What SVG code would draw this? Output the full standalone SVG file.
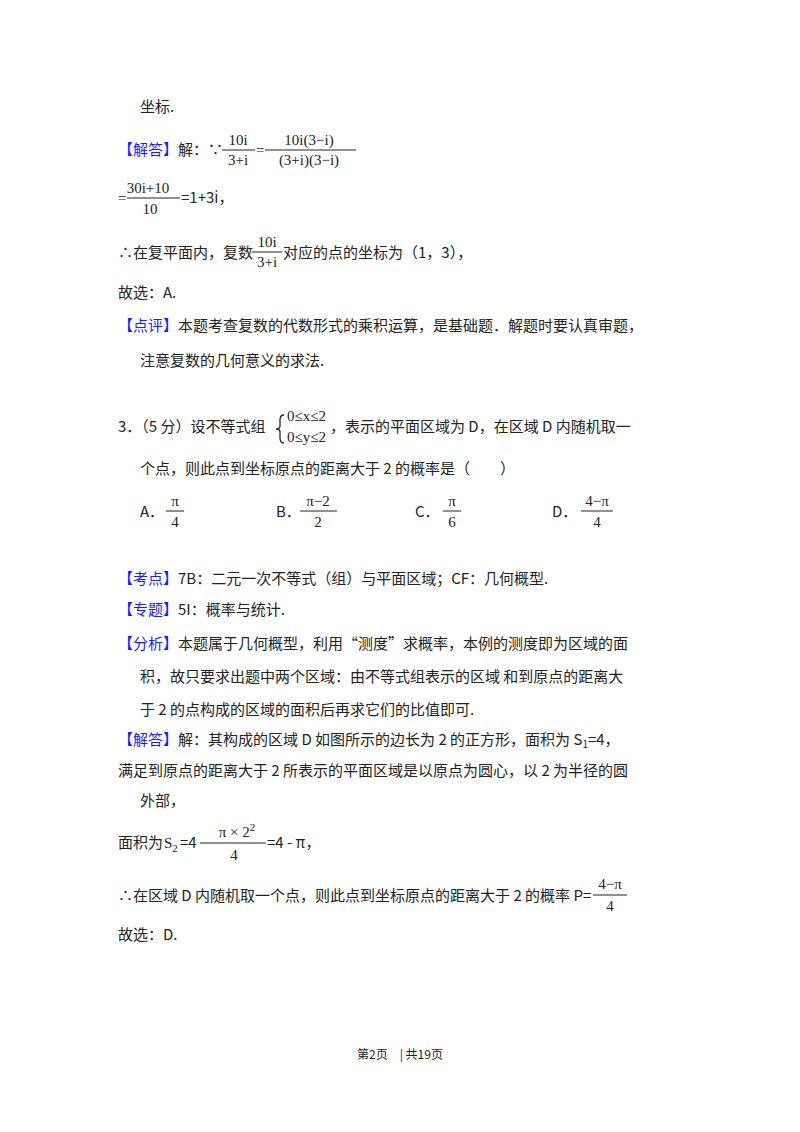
<svg xmlns="http://www.w3.org/2000/svg" width="800" height="1132" viewBox="0 0 800 1132">
<style>
text{font-family:"Noto Sans CJK SC","Liberation Sans",sans-serif;font-size:15px;fill:#222}
.b{fill:#1a1aff}
.m{font-family:"Liberation Serif","DejaVu Serif",serif;font-size:15px}
.s{font-size:12px}
line{stroke:#222;stroke-width:1}
</style>
<rect width="800" height="1132" fill="#fff"/>
<text x="140" y="112">坐标.</text>
<g id="sol2">
<text x="118" y="155"><tspan class="b">【解答】</tspan>解：∵</text>
<text class="m" x="238" y="145" text-anchor="middle">10i</text>
<line x1="222" y1="150" x2="255" y2="150"/>
<text class="m" x="238" y="165" text-anchor="middle">3+i</text>
<text class="m" x="256" y="155">=</text>
<text class="m" x="309" y="145" text-anchor="middle">10i(3−i)</text>
<line x1="265" y1="150" x2="356" y2="150"/>
<text class="m" x="309" y="165" text-anchor="middle">(3+i)(3−i)</text>
<text class="m" x="118" y="203">=</text>
<text class="m" x="148" y="193" text-anchor="middle">30i+10</text>
<line x1="127" y1="198" x2="180" y2="198"/>
<text class="m" x="150" y="214" text-anchor="middle">10</text>
<text x="181" y="203">=1+3i，</text>
<text x="118" y="258">∴在复平面内，复数</text>
<text class="m" x="267" y="247" text-anchor="middle">10i</text>
<line x1="252" y1="252" x2="282" y2="252"/>
<text class="m" x="267" y="267" text-anchor="middle">3+i</text>
<text x="283" y="258">对应的点的坐标为（1，3），</text>
<text x="118" y="298">故选：A.</text>
<text x="118" y="331"><tspan class="b">【点评】</tspan>本题考查复数的代数形式的乘积运算，是基础题．解题时要认真审题，</text>
<text x="140" y="366">注意复数的几何意义的求法.</text>
</g>
<g id="q3">
<text x="118" y="432">3．（5 分）设不等式组</text>
<path d="M284,415 q-4,0 -4,5 v6 q0,3 -4,3 q4,0 4,3 v6 q0,5 4,5" fill="none" stroke="#222" stroke-width="1.3"/>
<text class="m" x="287" y="421">0≤x≤2</text>
<text class="m" x="287" y="442">0≤y≤2</text>
<text x="330" y="432">，表示的平面区域为 D，在区域 D 内随机取一</text>
<text x="140" y="474">个点，则此点到坐标原点的距离大于 2 的概率是（　　）</text>
<text x="140" y="517">A．</text>
<text class="m" x="175" y="506" text-anchor="middle">π</text>
<line x1="166" y1="511" x2="184" y2="511"/>
<text class="m" x="175" y="527" text-anchor="middle">4</text>
<text x="276" y="517">B．</text>
<text class="m" x="318" y="506" text-anchor="middle">π−2</text>
<line x1="300" y1="511" x2="337" y2="511"/>
<text class="m" x="318" y="527" text-anchor="middle">2</text>
<text x="415" y="517">C．</text>
<text class="m" x="452" y="506" text-anchor="middle">π</text>
<line x1="443" y1="511" x2="461" y2="511"/>
<text class="m" x="452" y="527" text-anchor="middle">6</text>
<text x="552" y="517">D．</text>
<text class="m" x="597" y="506" text-anchor="middle">4−π</text>
<line x1="581" y1="511" x2="613" y2="511"/>
<text class="m" x="597" y="527" text-anchor="middle">4</text>
</g>
<g id="ana">
<text x="118" y="584"><tspan class="b">【考点】</tspan>7B：二元一次不等式（组）与平面区域；CF：几何概型.</text>
<text x="118" y="615"><tspan class="b">【专题】</tspan>5I：概率与统计.</text>
<text x="118" y="649"><tspan class="b">【分析】</tspan>本题属于几何概型，利用“测度”求概率，本例的测度即为区域的面</text>
<text x="140" y="682">积，故只要求出题中两个区域：由不等式组表示的区域  和到原点的距离大</text>
<text x="140" y="715">于 2 的点构成的区域的面积后再求它们的比值即可.</text>
<text x="118" y="745"><tspan class="b">【解答】</tspan>解：其构成的区域 D 如图所示的边长为 2 的正方形，面积为 S<tspan font-size="10" dy="3">1</tspan><tspan dy="-3">=4，</tspan></text>
<text x="118" y="776">满足到原点的距离大于 2 所表示的平面区域是以原点为圆心，以 2 为半径的圆</text>
<text x="140" y="806">外部，</text>
<text x="118" y="848">面积为</text>
<text class="m" x="164" y="848">S<tspan font-size="11" dy="4">2</tspan></text>
<text x="180" y="848">=4</text>
<text class="m" x="237" y="837" text-anchor="middle">π × 2<tspan font-size="11" dy="-6">2</tspan></text>
<line x1="200" y1="843" x2="266" y2="843"/>
<text class="m" x="234" y="860" text-anchor="middle">4</text>
<text x="267" y="848">=4 - π，</text>
<text x="118" y="901">∴在区域 D 内随机取一个点，则此点到坐标原点的距离大于 2 的概率 P=</text>
<text class="m" x="610" y="889" text-anchor="middle">4−π</text>
<line x1="593" y1="895" x2="627" y2="895"/>
<text class="m" x="610" y="911" text-anchor="middle">4</text>
<text x="118" y="940">故选：D.</text>
</g>
<text class="s" x="400" y="1059" text-anchor="middle">第2页　| 共19页</text>
</svg>
